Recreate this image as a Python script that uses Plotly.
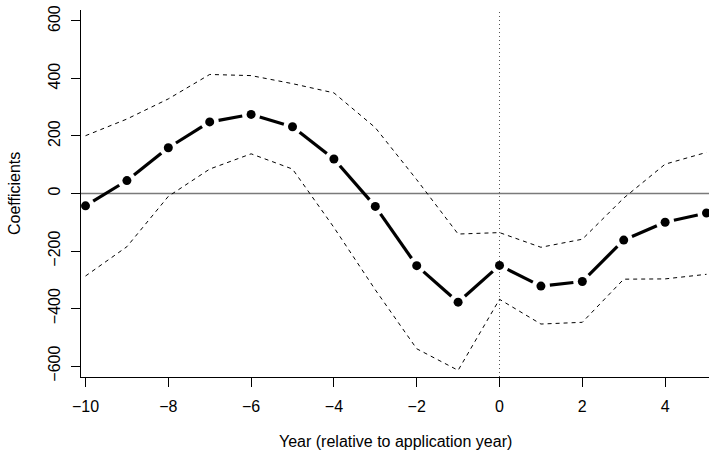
import numpy as np
import plotly.graph_objects as go

years = [-10, -9, -8, -7, -6, -5, -4, -3, -2, -1, 0, 1, 2, 3, 4, 5]
coef = [-43, 45, 159, 249, 275, 232, 120, -45, -251, -378, -250, -322, -306, -162, -100, -68]
upper = [201, 259, 329, 414, 410, 382, 350, 229, 48, -141, -136, -187, -159, -16, 102, 143]
lower = [-287, -185, -10, 85, 138, 85, -118, -335, -540, -615, -368, -454, -448, -298, -297, -281]
y_ticks = [-600, -400, -200, 0, 200, 400, 600]
x_ticks = [-10, -8, -6, -4, -2, 0, 2, 4]

W, H = 709, 455
ML, MR, MT, MB = 81, 0, 10, 78
XR = [-10.109, 5.06]
YR = [-638.2, 638.2]
FONT = "Liberation Sans, Arial, sans-serif"
FS = 16

# pixel scale for type="b" style gaps around points
pw, ph = W - ML - MR, H - MT - MB
sx = pw / (XR[1] - XR[0])
sy = ph / (YR[1] - YR[0])
gap = 9.0
seg_x, seg_y = [], []
for i in range(len(years) - 1):
    x0, y0, x1, y1 = years[i], coef[i], years[i + 1], coef[i + 1]
    dxp, dyp = (x1 - x0) * sx, (y1 - y0) * sy
    L = np.hypot(dxp, dyp)
    if L <= 2 * gap:
        continue
    f = gap / L
    seg_x += [x0 + (x1 - x0) * f, x1 - (x1 - x0) * f, None]
    seg_y += [y0 + (y1 - y0) * f, y1 - (y1 - y0) * f, None]

fig = go.Figure()
fig.add_trace(go.Scatter(x=years, y=upper, mode="lines",
                         line=dict(color="black", width=1, dash="4px,4px")))
fig.add_trace(go.Scatter(x=years, y=lower, mode="lines",
                         line=dict(color="black", width=1, dash="4px,4px")))
fig.add_trace(go.Scatter(x=seg_x, y=seg_y, mode="lines",
                         line=dict(color="black", width=3.2)))
fig.add_trace(go.Scatter(x=years, y=coef, mode="markers",
                         marker=dict(color="black", size=9)))

fig.add_shape(type="line", xref="paper", x0=0, x1=1, y0=0, y1=0,
              line=dict(color="#7a7a7a", width=1.5), layer="below")
fig.add_shape(type="line", x0=0, x1=0, yref="paper", y0=0, y1=1,
              line=dict(color="#555555", width=1, dash="1px,3px"), layer="below")

fig.add_annotation(text="Coefficients", xref="paper", yref="paper", x=0, y=0.5,
                   xanchor="center", yanchor="middle", xshift=-66.5, textangle=-90,
                   showarrow=False, font=dict(family=FONT, size=FS, color="black"))
fig.add_annotation(text="Year (relative to application year)", xref="paper", yref="paper",
                   x=(395.5 - ML) / pw, y=0, xanchor="center", yanchor="middle", yshift=-64,
                   showarrow=False, font=dict(family=FONT, size=FS, color="black"))

fig.update_layout(
    width=W, height=H, margin=dict(l=ML, r=MR, t=MT, b=MB),
    plot_bgcolor="white", paper_bgcolor="white", showlegend=False,
    font=dict(family=FONT, size=FS, color="black"),
    xaxis=dict(range=XR, tickvals=x_ticks, showgrid=False, zeroline=False,
               showline=True, linecolor="black", linewidth=1,
               ticks="outside", ticklen=9, tickwidth=1, tickcolor="black",
               ticklabelstandoff=6),
    yaxis=dict(range=YR, tickvals=y_ticks, showgrid=False, zeroline=False,
               showline=True, linecolor="black", linewidth=1,
               ticks="outside", ticklen=9, tickwidth=1, tickcolor="black",
               tickangle=-90, ticklabelstandoff=5),
)
fig.write_html("out.html")
